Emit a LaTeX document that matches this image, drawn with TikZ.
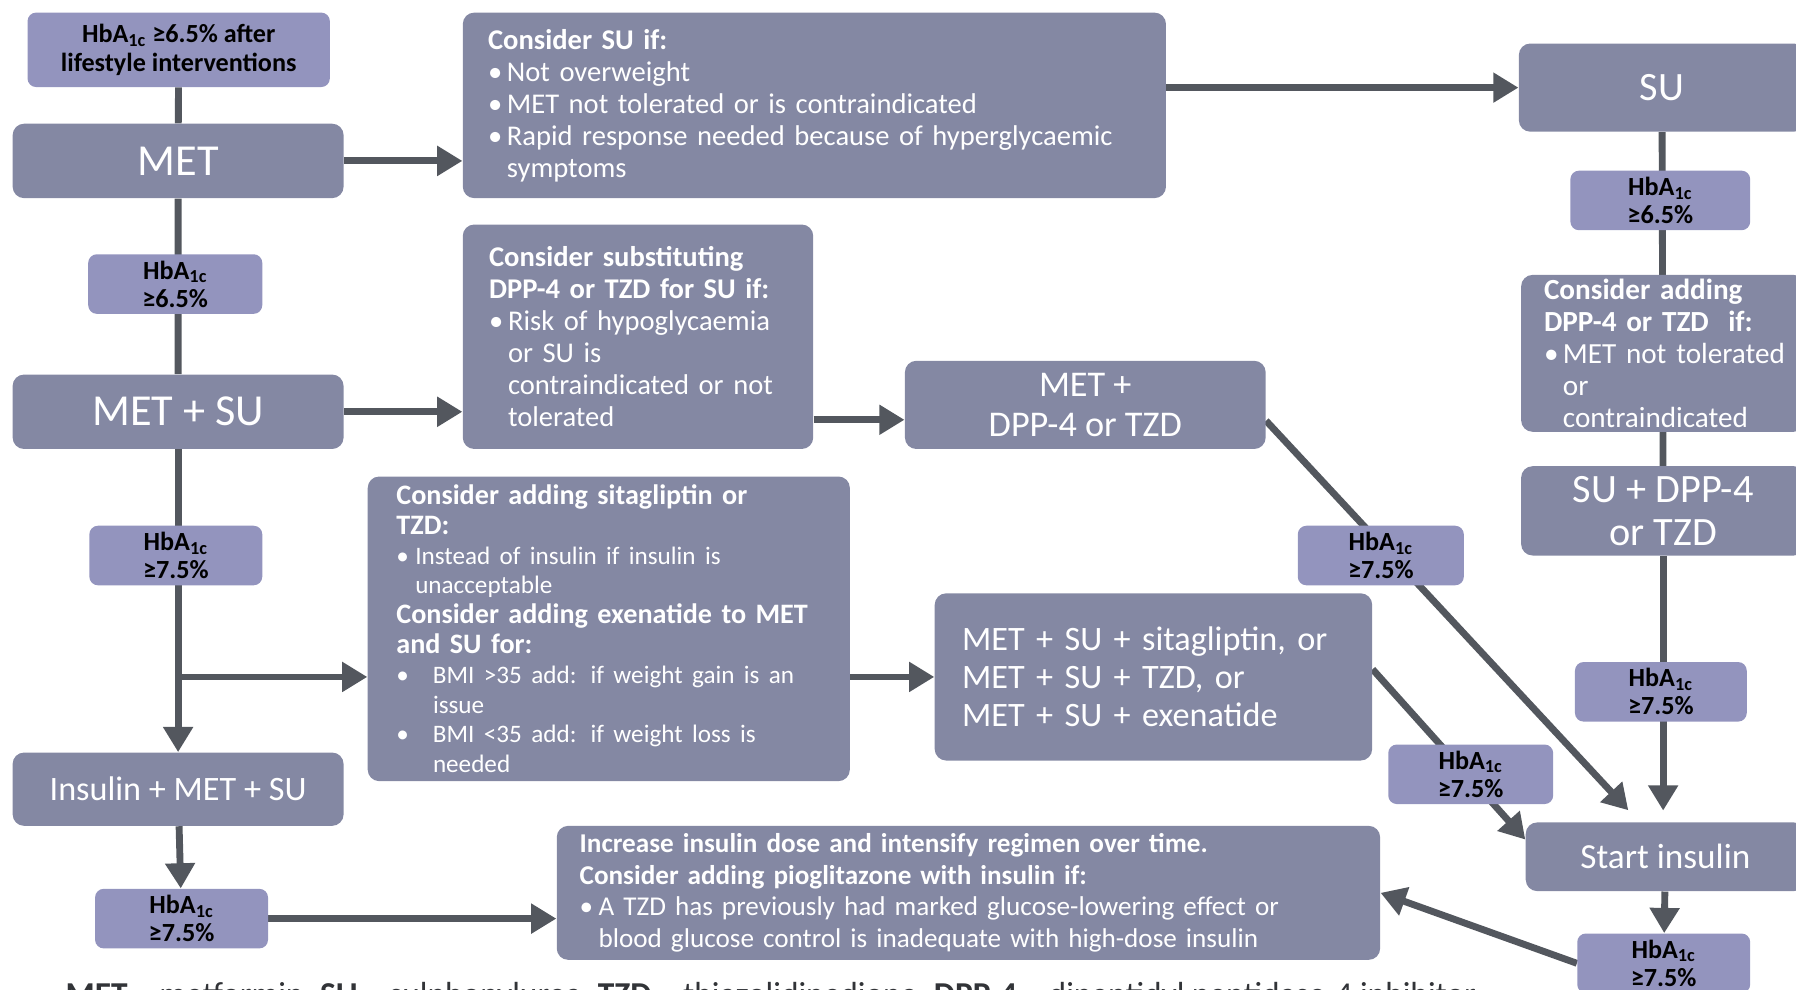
\documentclass[tikz,border=0pt]{standalone}
\usepackage{fontspec}
\setmainfont{Carlito}
\usetikzlibrary{arrows.meta,backgrounds}

\definecolor{boxgrey}{RGB}{132,136,163}
\definecolor{hbpurple}{RGB}{147,148,190}
\definecolor{linegrey}{RGB}{83,87,94}

\newcommand{\hba}{HbA\textsubscript{1c}}
\newcommand{\bul}[1][0.33cm]{\makebox[#1][l]{\textbullet}}
\newcommand{\hng}[1][0.33cm]{\hspace*{#1}}
\newcommand{\setfs}[2]{\fontsize{#1}{#2}\selectfont}

\begin{document}
\begin{tikzpicture}[x=0.02cm, y=-0.02cm,
    darkbox/.style={fill=boxgrey, rounded corners=0.2cm, text=white, inner sep=0, align=center},
    hbbox/.style={fill=hbpurple, rounded corners=0.15cm, inner sep=0, align=center,
        minimum height=1.04cm, font=\bfseries\setfs{13}{14}},
    bodytext/.style={text=white, inner sep=0, align=left, anchor=west, text width=#1},
    link/.style={draw=linegrey, line width=0.12cm},
    arr/.style={link, -{Triangle[length=0.44cm, width=0.5cm]}}]
    \useasboundingbox (0,0) rectangle (1568,864);
    \clip (0,0) rectangle (1568,864);

    % Left column
    \node[hbbox, minimum width=5.28cm, minimum height=1.3cm] (start) at (156,43.5) {\hba{} ≥6.5\% after\\lifestyle interventions};
    \node[darkbox, minimum width=5.78cm, minimum height=1.3cm, font=\setfs{22}{26}] (met) at (155.5,140.5) {MET};
    \node[darkbox, minimum width=5.78cm, minimum height=1.3cm, font=\setfs{22}{26}] (metsu) at (155.5,359.5) {MET + SU};
    \node[darkbox, minimum width=5.78cm, minimum height=1.28cm, font=\setfs{17}{20}] (insmetsu) at (155.5,689) {Insulin + MET + SU};

    % HbA1c thresholds
    \foreach \name/\x/\y/\w/\v in {hbA/153/248/3.04/6.5, hbB/153.5/485/3.02/7.5, hbC/158.5/802/3.02/7.5,
        hbD/1449.5/175/3.14/6.5, hbE/1450/604/3.0/7.5, hbF/1452.5/841/3.02/7.5,
        hbG/1205.5/485/2.9/7.5, hbH/1284/676/2.88/7.5} {
        \node[hbbox, minimum width=\w cm] (\name) at (\x,\y) {\hba\\≥\v\%};
    }

    % Options
    \node[darkbox, minimum width=12.28cm, minimum height=3.24cm] (consu) at (711,92) {};
    \node[bodytext=11.6cm, font=\setfs{14.2}{15.9}] (consu-t) at ([xshift=0.44cm]consu.west)
        {\textbf{Consider SU if:}\\\bul Not overweight\\\bul MET not tolerated or is contraindicated\\
         \bul Rapid response needed because of hyperglycaemic\\\hng symptoms};

    \node[darkbox, minimum width=6.12cm, minimum height=3.92cm] (subst) at (557,294) {};
    \node[bodytext=5.6cm, font=\setfs{14.2}{15.9}] (subst-t) at ([xshift=0.46cm]subst.west)
        {\textbf{Consider substituting}\\\textbf{DPP-4 or TZD for SU if:}\\\bul Risk of hypoglycaemia\\
         \hng or SU is\\\hng contraindicated or not\\\hng tolerated};

    \node[darkbox, minimum width=6.3cm, minimum height=1.54cm, font=\setfs{18}{19.8}] (metdpp) at (947.5,353.5) {MET +\\DPP-4 or TZD};

    \node[darkbox, minimum width=8.42cm, minimum height=5.32cm] (sita) at (531.5,549) {};
    \node[bodytext=8cm, font=\setfs{14}{14.8}] (sita-t) at ([xshift=0.5cm]sita.west)
        {\textbf{Consider adding sitagliptin or}\\\textbf{TZD:}\\
         \setfs{12.5}{14.8}\bul Instead of insulin if insulin is\\\hng unacceptable\\
         \setfs{14}{14.8}\textbf{Consider adding exenatide to MET}\\\textbf{and SU for:}\\
         \setfs{12.5}{14.8}\bul[0.64cm]BMI >35 add: if weight gain is an\\\hng[0.64cm]issue\\
         \bul[0.64cm]BMI <35 add: if weight loss is\\\hng[0.64cm]needed};

    \node[darkbox, minimum width=7.64cm, minimum height=2.92cm] (metsusita) at (1007,591) {};
    \node[bodytext=7cm, font=\setfs{17}{19}] (metsusita-t) at ([xshift=0.48cm]metsusita.west)
        {MET + SU + sitagliptin, or\\MET + SU + TZD, or\\MET + SU + exenatide};

    \node[darkbox, minimum width=14.38cm, minimum height=2.34cm] (incr) at (845.5,779.5) {};
    \node[bodytext=14cm, font=\setfs{13.5}{15.7}] (incr-t) at ([xshift=0.4cm]incr.west)
        {\textbf{Increase insulin dose and intensify regimen over time.}\\
         \textbf{Consider adding pioglitazone with insulin if:}\\
         \bul A TZD has previously had marked glucose-lowering effect or\\
         \hng blood glucose control is inadequate with high-dose insulin};

    % Right column
    \node[darkbox, minimum width=5cm, minimum height=1.54cm, font=\setfs{20}{24}] (su) at (1451,76.5) {SU};
    \node[darkbox, minimum width=4.96cm, minimum height=2.74cm] (adddpp) at (1452,308.5) {};
    \node[bodytext=4.6cm, font=\setfs{14.5}{15.9}] (adddpp-t) at ([xshift=0.4cm]adddpp.west)
        {\textbf{Consider adding}\\\textbf{DPP-4 or TZD\ \ if:}\\\bul MET not tolerated\\\hng or\\\hng contraindicated};
    \node[darkbox, minimum width=4.96cm, minimum height=1.56cm, font=\setfs{20}{21.5}] (sudpp) at (1452,446) {SU + DPP-4\\or TZD};
    \node[darkbox, minimum width=4.88cm, minimum height=1.2cm, font=\setfs{17.5}{20}] (ins) at (1454,748) {Start insulin};

    % Abbreviations
    \node[anchor=base west, inner sep=0, font=\setfs{16.6}{20}, text=linegrey!60!black] (abbr) at (57,878)
        {\textbf{MET} = metformin; \textbf{SU} = sulphonylurea; \textbf{TZD} = thiazolidinedione; \textbf{DPP-4} = dipeptidyl peptidase-4 inhibitor};

    \coordinate (branch) at (155,591);

    % Connectors
    \begin{scope}[on background layer]
        \draw[link] (start) -- (met) -- (metsu);
        \draw[arr] (metsu) -- (insmetsu);
        \draw[arr] (branch) -- (branch -| sita.west);
        \draw[arr] (insmetsu) -- (hbC);
        \draw[arr] (hbC) -- (hbC -| incr.west);
        \draw[arr] (met) -- (met -| consu.west);
        \draw[arr] (metsu) -- (metsu -| subst.west);
        \draw[arr] (consu.east |- su) -- (su);
        \draw[arr] ([yshift=-0.26cm]subst.east |- metdpp.west) -- ([yshift=-0.26cm]metdpp.west);
        \draw[arr] (sita.east |- metsusita) -- (metsusita);
        \draw[link] (su) -- (sudpp);
        \draw[arr, shorten >=0.2cm] (sudpp) -- (sudpp |- ins.north);
        \draw[arr] (ins) -- (hbF);
        \draw[arr] (hbF.west) -- (incr.east);
        \draw[arr, shorten >=0.28cm] (metdpp.-5) -- (ins.127);
        \draw[arr] (metsusita.2) -- (ins.173);
    \end{scope}
\end{tikzpicture}
\end{document}
